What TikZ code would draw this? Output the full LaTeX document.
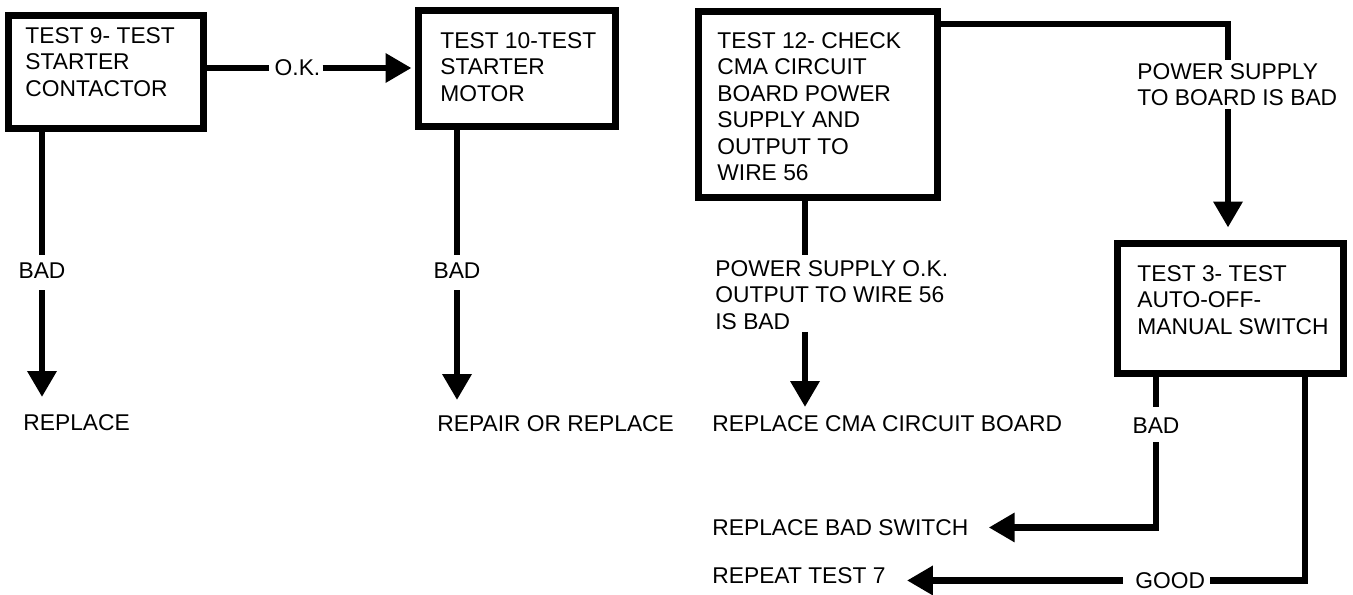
\documentclass[tikz,border=0pt]{standalone}
\usepackage{fontspec}
\setmainfont{Liberation Sans}
\usetikzlibrary{arrows.meta}
\begin{document}
\begin{tikzpicture}[x=0.5pt,y=-0.5pt,
  box/.style={draw=black, line width=3.5pt, inner sep=0pt},
  txt/.style={inner sep=0pt, align=left, font=\fontsize{11.4}{13.25}\selectfont},
  conn/.style={draw=black, line width=3.3pt},
  arr/.style={conn, -{Triangle[length=13pt,width=14pt]}}
]
\useasboundingbox (0,0) rectangle (1353,594);

% boxes
\node[box, minimum width=97.5pt, minimum height=56.5pt] (t9) at (105.5,71.5) {};
\node[box, minimum width=98.5pt, minimum height=58pt] (t10) at (516.5,68) {};
\node[box, minimum width=119.5pt, minimum height=93pt] (t12) at (817.5,104) {};
\node[box, minimum width=113pt, minimum height=65pt] (t3) at (1230,308) {};

% box texts
\node[txt, anchor=north west] (t9t) at (25,27) {TEST 9- TEST\\STARTER\\CONTACTOR};
\node[txt, anchor=north west] (t10t) at (440,32) {TEST 10-TEST\\STARTER\\MOTOR};
\node[txt, anchor=north west] (t12t) at (717,32) {TEST 12- CHECK\\CMA CIRCUIT\\BOARD POWER\\SUPPLY AND\\OUTPUT TO\\WIRE 56};
\node[txt, anchor=north west] (t3t) at (1137,265) {TEST 3- TEST\\AUTO-OFF-\\MANUAL SWITCH};

% O.K. connector
\node[txt] (ok) at (297.5,68) {O.K.};
\draw[conn, shorten >=2.5pt] (t9.east |- ok) -- (ok.west);
\draw[arr, shorten <=1pt, shorten >=1.5pt] (ok.east) -- (t10.west |- ok);

% test 9 branch
\node[txt, anchor=north] (bad1) at (42,262) {BAD};
\node[txt, anchor=north west] (rep1) at (23,414) {REPLACE};
\draw[conn, shorten >=3.5pt] (bad1.north |- t9.south) -- (bad1.north);
\draw[arr, shorten <=6pt, shorten >=8.5pt] (bad1.south) -- (bad1.south |- rep1.north);

% test 10 branch
\node[txt, anchor=north] (bad2) at (457,262) {BAD};
\node[txt, anchor=north west] (rep2) at (437,415) {REPAIR OR REPLACE};
\draw[conn, shorten >=3.5pt] (bad2.north |- t10.south) -- (bad2.north);
\draw[arr, shorten <=6pt, shorten >=7.5pt] (bad2.south) -- (bad2.south |- rep2.north);

% test 12 down branch
\coordinate (k12) at (805,0);
\node[txt, anchor=north west] (psok) at (715,260) {POWER SUPPLY O.K.\\OUTPUT TO WIRE 56\\IS BAD};
\node[txt, anchor=north west] (repcma) at (712,415) {REPLACE CMA CIRCUIT BOARD};
\draw[conn, shorten >=2.5pt] (k12 |- t12.south) -- (k12 |- psok.north);
\draw[arr, shorten <=1pt, shorten >=4pt] (k12 |- psok.south) -- (k12 |- repcma.north);

% test 12 right branch
\coordinate (j1) at (1228,24);
\node[txt, anchor=north west] (psbad) at (1137,63) {POWER SUPPLY\\TO BOARD IS BAD};
\draw[conn, shorten >=1.5pt] (t12.east |- j1) -- (j1) -- (j1 |- psbad.north);
\draw[arr, shorten <=1.5pt, shorten >=6pt] (j1 |- psbad.south) -- (j1 |- t3.north);

% test 3 bad branch
\node[txt, anchor=north] (bad3) at (1156,417) {BAD};
\node[txt, anchor=north west] (repsw) at (712,519) {REPLACE BAD SWITCH};
\draw[conn, shorten >=5pt] (bad3.north |- t3.south) -- (bad3.north);
\draw[arr, shorten <=4.5pt, shorten >=10pt] (bad3.south) |- (repsw.east);

% test 3 good branch
\coordinate (g1) at (1305,0);
\node[txt, anchor=north west] (good) at (1135,572) {GOOD};
\node[txt, anchor=north west] (rep7) at (712,567) {REPEAT TEST 7};
\draw[conn, shorten >=2.5pt] (g1 |- t3.south) |- (good.east);
\draw[arr, shorten <=6pt, shorten >=10.5pt] (good.west) -- (rep7.east |- good.west);
\end{tikzpicture}
\end{document}
